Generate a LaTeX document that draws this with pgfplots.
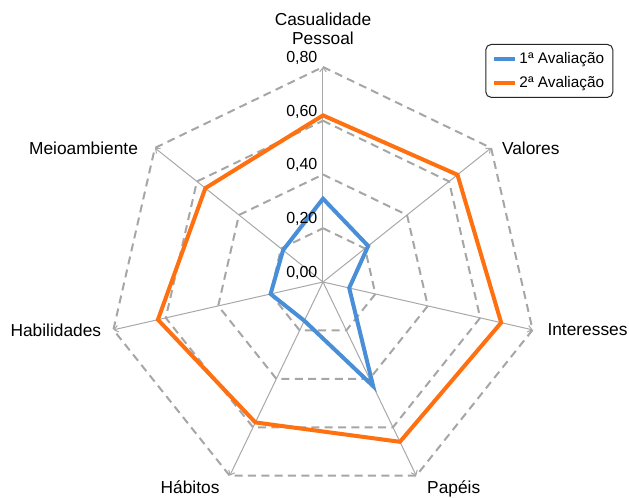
\documentclass[border=0pt]{standalone}
\usepackage{fontspec}
\setmainfont{Liberation Sans}
\usepackage{pgfplots}
\pgfplotsset{compat=1.18}
\usepgfplotslibrary{polar}
\usetikzlibrary{arrows.meta}
\definecolor{blueS}{RGB}{72,143,216}
\definecolor{orangeS}{RGB}{255,112,16}
\definecolor{gridG}{RGB}{166,166,166}
\definecolor{spokeG}{RGB}{168,168,168}
\begin{document}
\begin{tikzpicture}
\begin{polaraxis}[
  scale only axis, width=322.5pt, height=322.5pt,
  ymin=0, ymax=0.8,
  hide axis, clip=false,
  legend style={at={(axis cs:39.35,1.397)}, anchor=north east,
    draw=black!85, line width=0.75pt, rounded corners=4pt,
    font=\fontsize{11.5}{13}\selectfont, inner xsep=4.5pt, inner ysep=4pt,
    row sep=4pt, cells={anchor=west}},
  legend image code/.code={\draw[#1] (0pt,0pt) -- (15.75pt,0pt);},
]
% dashed heptagons
\foreach \r in {0.2,0.4,0.6,0.8}{
  \edef\tmp{\noexpand\addplot[forget plot, gridG, line width=1.5pt, dash pattern=on 6pt off 4pt]
    coordinates {(90,\r)(38.5714,\r)(347.1429,\r)(295.7143,\r)(244.2857,\r)(192.8571,\r)(141.4286,\r)(90,\r)};}
  \tmp
}
% spokes
\foreach \a in {90,38.5714,347.1429,295.7143,244.2857,192.8571,141.4286}{
  \edef\tmp{\noexpand\addplot[forget plot, spokeG, line width=0.75pt, -{Straight Barb[length=3pt,width=5pt]}]
    coordinates {(\a,0)(\a,0.8)};}
  \tmp
}
% data
\addplot[blueS, line width=3pt, line join=miter] coordinates {
  (90,0.31) (38.5714,0.215) (347.1429,0.10) (295.7143,0.43)
  (244.2857,0.16) (192.8571,0.20) (141.4286,0.19) (90,0.31) (38.5714,0.215)};
\addlegendentry{1ª Avaliação}
\addplot[orangeS, line width=3pt, line join=miter] coordinates {
  (90,0.62) (38.5714,0.64) (347.1429,0.68) (295.7143,0.66)
  (244.2857,0.58) (192.8571,0.63) (141.4286,0.56) (90,0.62) (38.5714,0.64)};
\addlegendentry{2ª Avaliação}
% tick labels
\node[font=\fontsize{12}{13}\selectfont, anchor=base east, inner sep=0pt, xshift=-4pt, yshift=3.5pt] at (axis cs:90,0) {0,00};
\node[font=\fontsize{12}{13}\selectfont, anchor=base east, inner sep=0pt, xshift=-4pt, yshift=3.5pt] at (axis cs:90,0.2) {0,20};
\node[font=\fontsize{12}{13}\selectfont, anchor=base east, inner sep=0pt, xshift=-4pt, yshift=3.5pt] at (axis cs:90,0.4) {0,40};
\node[font=\fontsize{12}{13}\selectfont, anchor=base east, inner sep=0pt, xshift=-4pt, yshift=3.5pt] at (axis cs:90,0.6) {0,60};
\node[font=\fontsize{12}{13}\selectfont, anchor=base east, inner sep=0pt, xshift=-4pt, yshift=3.5pt] at (axis cs:90,0.8) {0,80};
% category labels
\node[font=\fontsize{13}{14.5}\selectfont, align=center, anchor=south, inner sep=0pt, yshift=16.5pt] at (axis cs:90,0.8) {Casualidade\\Pessoal};
\node[font=\fontsize{13}{15}\selectfont, anchor=west, inner sep=0pt, xshift=8pt] at (axis cs:38.5714,0.8) {Valores};
\node[font=\fontsize{13}{15}\selectfont, anchor=west, inner sep=0pt, xshift=11pt] at (axis cs:347.1429,0.8) {Interesses};
\node[font=\fontsize{13}{15}\selectfont, anchor=base west, inner sep=0pt, xshift=8pt, yshift=-13pt] at (axis cs:295.7143,0.8) {Papéis};
\node[font=\fontsize{13}{15}\selectfont, anchor=base east, inner sep=0pt, xshift=-7.5pt, yshift=-13pt] at (axis cs:244.2857,0.8) {Hábitos};
\node[font=\fontsize{13}{15}\selectfont, anchor=east, inner sep=0pt, xshift=-9pt] at (axis cs:192.8571,0.8) {Habilidades};
\node[font=\fontsize{13}{15}\selectfont, anchor=east, inner sep=0pt, xshift=-12.5pt] at (axis cs:141.4286,0.8) {Meioambiente};
\coordinate (c) at (axis cs:0,0);
\end{polaraxis}
\pgfresetboundingbox
\path[use as bounding box] (c) ++(-242.25pt,-161.25pt) rectangle ++(471.75pt,372.75pt);
\end{tikzpicture}
\end{document}
